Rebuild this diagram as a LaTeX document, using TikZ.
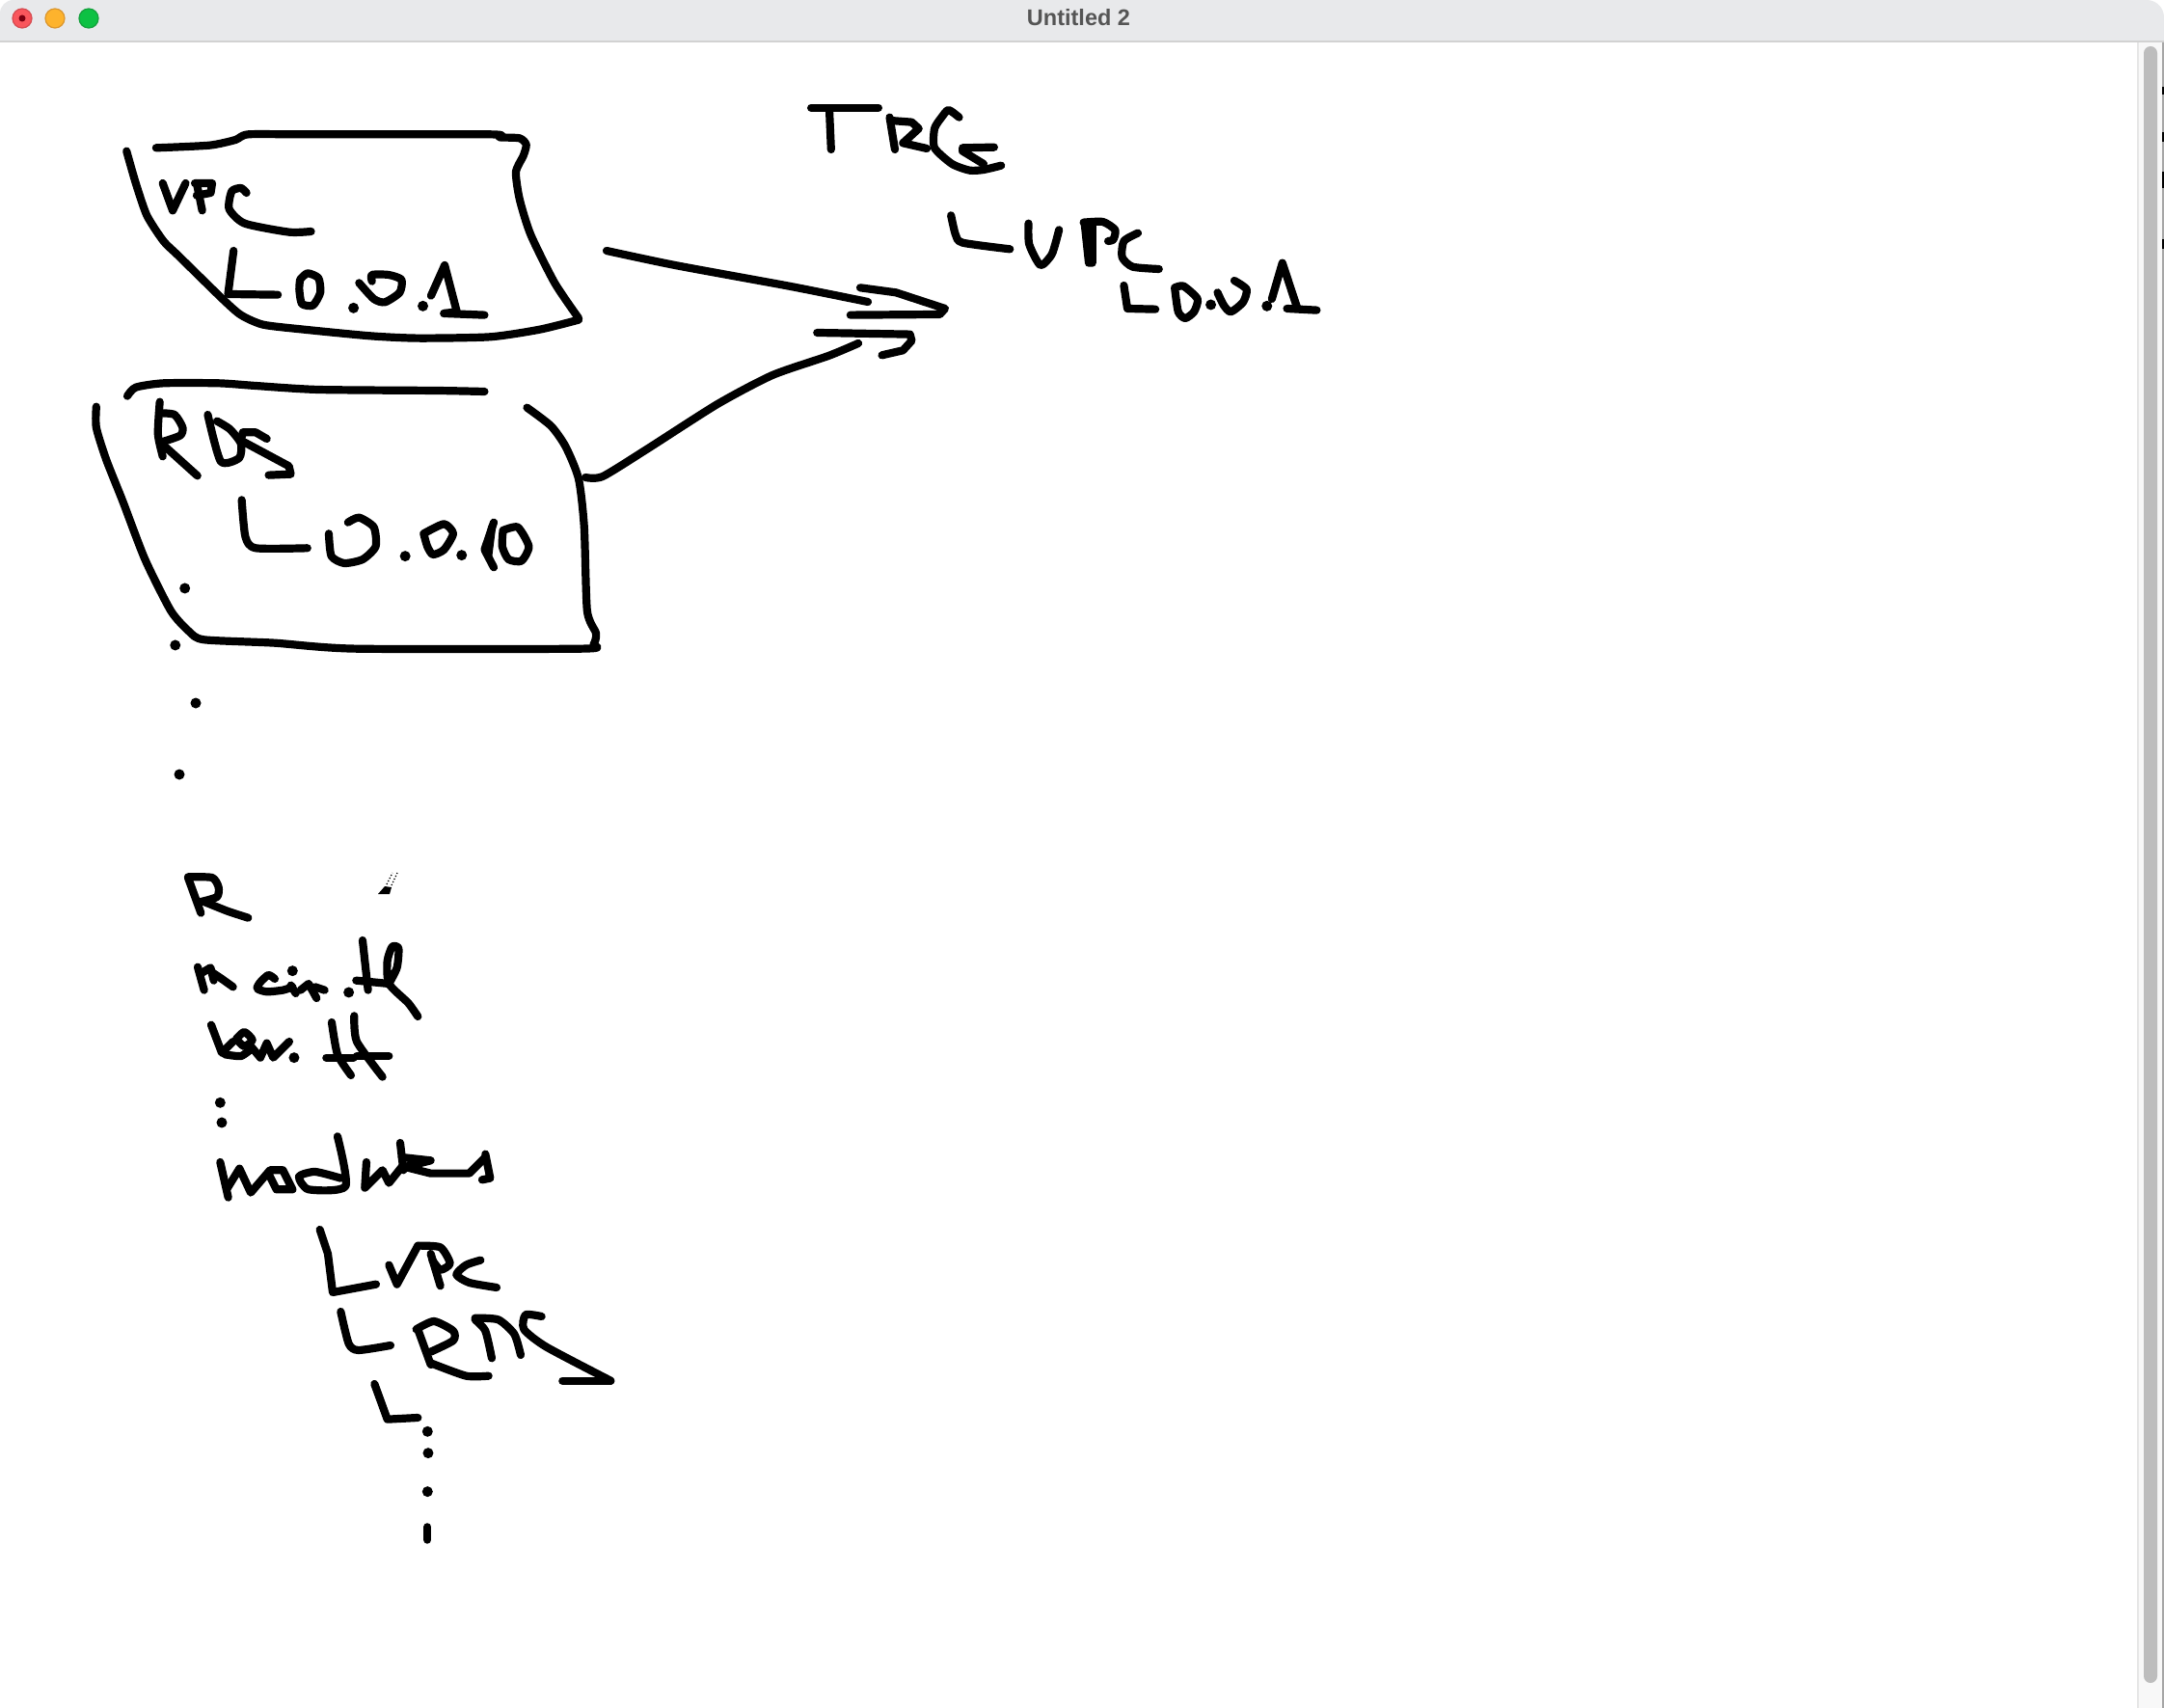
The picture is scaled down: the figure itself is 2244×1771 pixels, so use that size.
\documentclass[tikz,border=0pt]{standalone}
\usepackage{fontspec}
\setmainfont{Liberation Sans}
\definecolor{barbg}{HTML}{E8E9EB}
\definecolor{barline}{HTML}{D2D2D2}
\definecolor{gutter}{HTML}{F8F8F8}
\definecolor{gutline}{HTML}{E6E6E6}
\definecolor{thumb}{HTML}{BDBDBD}
\definecolor{titletxt}{HTML}{555555}
\definecolor{redfill}{HTML}{F9565C}
\definecolor{redline}{HTML}{D64B50}
\definecolor{redcore}{HTML}{7A0010}
\definecolor{ambfill}{HTML}{FDB32D}
\definecolor{ambline}{HTML}{DB962D}
\definecolor{grnfill}{HTML}{0DC143}
\definecolor{grnline}{HTML}{14A03C}
\tikzset{
  ink/.style={draw=black,line width=8.2pt,line cap=round,line join=round},
  zoneA/.style={shift={(70,110)},x=0.3827pt,y=-0.3333pt},
  zoneB/.style={shift={(70,380)},x=0.3827pt,y=-0.3333pt},
  zoneC/.style={shift={(820,90)},x=0.3636pt,y=-0.3333pt},
  zoneD/.style={shift={(170,880)},x=0.3333pt,y=-0.3333pt},
  zoneE/.style={shift={(300,1250)},x=0.3333pt,y=-0.3333pt},
  light/.style={line width=1.2pt}
}
\newcommand\stk[1]{\draw[ink] plot[smooth,tension=0.4] coordinates {#1};}
\newcommand\pln[1]{\draw[ink] plot coordinates {#1};}
\newcommand\dotm[1]{\fill[black] (#1) circle[radius=5.5pt];}
\begin{document}
\begin{tikzpicture}[x=1pt,y=-1pt]
\useasboundingbox (0,0) rectangle (2244,1771);
\fill[white] (0,0) rectangle (2244,1771);
% window chrome
\fill[barbg] (0,43) -- (0,14) arc[start angle=180,end angle=90,radius=14pt] -- (2226,0) arc[start angle=90,end angle=0,radius=18pt] -- (2244,43) -- cycle;
\fill[barline] (0,42.5) rectangle (2244,44.5);
\fill[gutter] (2217,44.5) rectangle (2244,1771);
\fill[gutline] (2216,44.5) rectangle (2218,1771);
\fill[thumb,rounded corners=7pt] (2223,48) rectangle (2237,1745);
\fill[gray!70] (2242,44.5) rectangle (2244,1771);
\fill[black] (2242,90) rectangle (2244,98);
\fill[black] (2242,137) rectangle (2244,147);
\fill[black] (2242,178) rectangle (2244,195);
\fill[black] (2242,248) rectangle (2244,258);
\draw[fill=redfill,draw=redline,light] (23,19) circle[radius=10pt];
\fill[redcore] (23,19) circle[radius=3.5pt];
\draw[fill=ambfill,draw=ambline,light] (57,19) circle[radius=10pt];
\draw[fill=grnfill,draw=grnline,light] (92,19) circle[radius=10pt];
\node[text=titletxt,font=\fontsize{23.5}{28}\selectfont\bfseries,inner sep=0pt] (title) at (1118.5,18.5) {Untitled 2};

% VPC box
\begin{scope}[zoneA]
\stk{(240,130) (385,122) (455,105) (490,88) (640,88) (1145,88) (1170,97) (1225,100) (1243,120) (1235,155) (1215,205) (1225,290) (1255,400) (1320,550) (1385,660)}
\stk{(1385,665) (1280,695) (1145,718) (950,722) (820,715) (640,695) (530,680) (470,650) (420,600) (300,465) (260,420) (215,340) (185,240) (160,140)}
\pln{(258,240) (285,325) (320,240)}
\pln{(345,240) (392,240) (388,270) (350,278)}
\pln{(350,240) (365,325)}
\stk{(485,270) (470,255) (445,265) (438,320) (480,365) (600,392) (660,390)}
\pln{(450,450) (435,585) (570,587)}
\stk{(630,540) (650,520) (680,535) (685,580) (665,620) (635,615) (628,570) (630,540)}
\dotm{775,628}
\stk{(790,550) (830,600) (860,610) (900,580) (905,540) (870,525) (825,525) (825,545)}
\dotm{963,622}
\pln{(985,590) (1022,495) (1055,640) (1020,645)}
\pln{(1020,645) (1130,650)}
\end{scope}

% RDS box
\begin{scope}[zoneB]
\stk{(162,92) (185,65) (260,52) (410,52) (510,60) (680,72) (1000,75) (1130,78)}
\stk{(78,125) (78,190) (105,290) (150,420) (210,600) (280,760) (330,825) (370,850) (560,860) (780,878) (1395,878) (1425,865) (1432,830) (1408,760) (1400,500) (1385,350) (1350,250) (1310,185) (1245,128)}
\stk{(250,110) (245,210) (258,280)}
\stk{(250,145) (290,150) (312,190) (305,215) (255,235)}
\pln{(265,250) (352,340)}
\stk{(380,150) (415,295) (465,285) (470,240) (440,195) (405,170)}
\pln{(540,225) (510,205) (475,205) (470,230) (600,310) (605,335) (545,338)}
\stk{(472,415) (482,530) (510,565) (650,565)}
\stk{(760,485) (790,470) (830,500) (835,560) (800,600) (750,612) (715,590) (708,520)}
\dotm{915,590}
\stk{(965,520) (1020,490) (1045,520) (1020,570) (990,585) (975,560) (965,520)}
\dotm{1068,587}
\pln{(1155,485) (1130,570) (1155,625)}
\pln{(1150,500) (1140,590)}
\stk{(1180,510) (1220,500) (1250,560) (1230,605) (1195,600) (1178,560) (1180,510)}
\dotm{318,690}
\dotm{292,867}
\end{scope}
\dotm{203,729}
\dotm{186,803}

% arrows (full-size coordinates)
\stk{(629,260) (700,275) (820,297) (900,313)}
\stk{(607,495) (625,494) (672,465) (744,419) (801,389) (859,369) (890,356)}

% TRG block
\begin{scope}[zoneC]
\pln{(58,65) (250,65)}
\pln{(110,70) (115,195)}
\pln{(282,95) (297,195)}
\pln{(285,105) (345,110) (365,130) (320,175) (388,192)}
\stk{(480,95) (450,72) (430,95) (410,130) (410,190) (460,240) (510,260) (550,258) (600,245)}
\pln{(580,188) (490,190) (490,200) (550,240)}
\stk{(457,400) (470,460) (490,485) (625,505)}
\stk{(678,425) (680,490) (712,555) (745,520) (765,445)}
\pln{(838,425) (850,548) (860,548) (860,425)}
\stk{(835,422) (890,420) (925,445) (920,475) (905,480)}
\stk{(990,455) (950,480) (945,530) (975,560) (1050,567)}
\pln{(950,618) (960,690) (1040,692)}
\stk{(1095,625) (1120,620) (1160,660) (1150,700) (1125,720) (1105,700) (1095,625)}
\dotm{1198,678}
\stk{(1217,640) (1235,680) (1255,700) (1290,670) (1300,630) (1265,603)}
\dotm{1358,682}
\pln{(1372,660) (1402,548) (1445,690)}
\pln{(1415,690) (1500,695)}
% arrowhead one
\pln{(198,625) (300,640) (440,690) (425,708) (170,710)}
% arrowhead two
\pln{(75,765) (340,770) (345,790) (320,820) (260,835)}
\end{scope}

% R / main.tf / var.tf / modules
\begin{scope}[zoneD]
\pln{(75,90) (115,200)}
\stk{(75,88) (150,90) (170,120) (165,150) (115,165)}
\stk{(125,165) (200,195) (262,215)}
\pln{(105,368) (125,440)}
\pln{(120,385) (145,370) (155,410)}
\pln{(150,385) (180,405) (215,430)}
\stk{(345,405) (325,393) (300,415) (290,435) (320,445) (370,440) (400,430)}
\dotm{400,380}
\pln{(395,425) (410,450)}
\pln{(425,440) (450,420) (475,465)}
\pln{(470,430) (500,440)}
\dotm{575,447}
\pln{(618,285) (635,440)}
\pln{(598,410) (700,420)}
\stk{(700,420) (725,370) (730,310) (710,305) (695,350) (700,420) (760,480) (790,522)}
\pln{(147,548) (180,635) (215,600)}
\stk{(225,592) (250,570) (275,595) (250,615) (225,592)}
\stk{(190,640) (240,645) (275,620)}
\pln{(275,620) (300,650) (320,605) (340,650) (390,600)}
\dotm{405,650}
\stk{(522,540) (540,640) (582,705)}
\pln{(505,650) (590,650)}
\stk{(592,520) (600,600) (680,710)}
\pln{(600,645) (700,645)}
\dotm{175,790}
\dotm{180,852}
\pln{(175,975) (200,1085)}
\pln{(195,1060) (235,995) (270,1070) (330,1000) (370,1000) (400,1060) (350,1060) (325,1010)}
\stk{(540,895) (565,1050) (450,1060) (420,1020) (470,1005) (550,1025)}
\pln{(630,975) (625,1055) (680,1000) (700,1040) (740,990)}
\pln{(735,915) (745,1000)}
\pln{(740,960) (830,970) (750,990) (830,1010) (950,1010) (1000,960)}
\pln{(1000,950) (1015,1025) (990,1030)}
\end{scope}

% tree lower part
\begin{scope}[zoneE]
\pln{(95,75) (120,150) (135,270) (270,245)}
\pln{(310,185) (335,245) (400,125)}
\stk{(400,125) (470,130) (500,180) (470,200) (445,170)}
\pln{(440,150) (470,250)}
\stk{(595,170) (550,185) (520,215) (560,240) (645,255)}
\stk{(160,330) (185,430) (215,450) (315,435)}
\pln{(400,385) (440,495)}
\stk{(395,385) (450,360) (510,390) (510,420) (440,455)}
\stk{(440,490) (550,530) (620,530)}
\stk{(578,355) (610,390) (630,475)}
\stk{(578,350) (650,355) (700,400) (720,465)}
\stk{(785,345) (735,340) (730,385) (800,440) (1000,545)}
\pln{(1000,545) (850,545)}
\pln{(265,555) (305,665) (400,660)}
\dotm{430,703}
\dotm{432,770}
\dotm{430,890}
\pln{(430,1000) (430,1040)}
\end{scope}

% brush cursor
\fill[black] (392,927) -- (399,919) -- (406,920) -- (404,927) -- cycle;
\draw[black,line width=1.3pt,dotted] (401,917) -- (407,905);
\draw[black,line width=1.3pt,dotted] (406,918) -- (412,905);
\end{tikzpicture}
\end{document}
